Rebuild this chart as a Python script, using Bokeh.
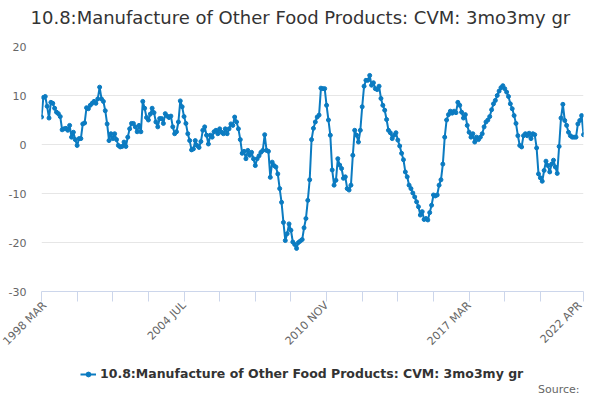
import math

from bokeh.plotting import figure
from bokeh.layouts import column
from bokeh.models import ColumnDataSource, FixedTicker, Range1d, Legend, LegendItem, Label, Title
from bokeh.embed import file_html
from bokeh.resources import INLINE

series_name = "10.8:Manufacture of Other Food Products: CVM: 3mo3my gr"

# monthly values, 1998 MAR .. 2022 APR
values = [
    5.6, 9.6, 9.8, 7.8, 5.4, 8.6, 8.4, 7.4, 6.6, 6.3,
    5.7, 3.0, 3.2, 3.3, 2.9, 3.9, 1.5, 2.5, 1.0, -0.2,
    1.2, 1.2, 4.2, 4.4, 7.5, 7.3, 8.0, 8.4, 8.8, 8.4,
    9.3, 11.7, 9.3, 8.8, 6.9, 4.2, 0.8, 2.2, 1.2, 2.2,
    1.0, -0.2, -0.5, -0.4, 0.5, -0.4, 1.5, 3.2, 4.3, 4.3,
    3.6, 2.6, 3.9, 2.6, 8.8, 7.4, 5.5, 5.0, 6.2, 7.4,
    6.5, 4.6, 3.6, 5.3, 5.3, 4.3, 6.3, 5.8, 5.5, 5.8,
    3.6, 2.2, 2.6, 4.6, 8.9, 7.7, 5.7, 4.3, 2.2, 0.8,
    -1.1, -0.9, 0.8, -0.2, -0.6, 0.6, 2.9, 3.6, 1.9, 0.1,
    1.9, 1.5, 2.6, 2.9, 2.2, 3.2, 2.5, 2.2, 3.2, 2.2,
    3.2, 4.2, 3.9, 5.6, 4.6, 3.2, 1.0, -1.8, -1.4, -2.9,
    -1.2, -2.2, -1.6, -2.9, -4.3, -2.9, -2.3, -1.6, -1.2, 2.0,
    -1.2, -1.4, -6.7, -3.6, -4.3, -4.6, -6.0, -9.0, -11.8, -15.9,
    -19.6, -18.2, -16.2, -17.5, -19.9, -20.4, -21.2, -20.0, -19.7, -19.4,
    -17.0, -15.1, -11.4, -7.2, 1.0, 3.3, 4.6, 5.6, 6.0, 11.5,
    11.4, 11.4, 8.0, 5.0, 1.9, -5.2, -8.3, -7.3, -2.9, -4.2,
    -4.9, -6.9, -6.6, -9.0, -9.3, -8.3, -2.2, 2.9, 1.9, 0.5,
    2.9, 7.7, 11.9, 13.1, 13.1, 14.1, 12.1, 12.6, 11.4, 11.2,
    11.9, 9.4, 8.0, 7.0, 5.1, 2.9, 2.4, 1.2, 1.9, 2.4,
    0.9, -0.3, -1.8, -3.1, -5.6, -6.6, -8.3, -9.0, -9.9, -10.7,
    -11.7, -12.7, -14.4, -13.7, -15.3, -15.1, -15.4, -13.9, -12.4, -10.3,
    -10.5, -10.3, -8.3, -7.2, -4.0, 1.5, 5.0, 6.1, 6.8, 6.4,
    6.8, 6.5, 8.6, 8.0, 6.6, 5.4, 6.1, 3.9, 2.5, 1.5,
    2.2, 0.5, 1.5, 1.0, 1.5, 2.2, 3.6, 4.6, 5.0, 5.7,
    7.1, 8.3, 9.0, 10.0, 10.9, 11.6, 12.0, 11.4, 10.7, 9.8,
    8.3, 7.3, 5.9, 4.3, 1.8, -0.2, -0.5, 1.8, 2.2, 1.8,
    2.3, 1.2, 2.2, 2.0, -0.7, -6.0, -6.8, -7.5, -5.3, -3.4,
    -4.3, -5.6, -4.0, -3.2, -4.6, -5.9, -0.4, 5.4, 8.2, 4.9,
    3.9, 2.5, 1.8, 1.5, 1.5, 1.5, 4.2, 4.9, 5.9, 2.0,
]

x_ticks = [0, 19, 38, 57, 76, 95, 114, 133, 152, 171, 190, 209, 228, 247, 266, 289]
x_tick_labels = {0: "1998 MAR", 76: "2004 JUL", 152: "2010 NOV", 228: "2017 MAR", 289: "2022 APR"}
y_ticks = [-30, -20, -10, 0, 10, 20]

color = "#0b7bc1"
font = "DejaVu Sans"

src = ColumnDataSource(data=dict(x=list(range(len(values))), y=values))

p = figure(width=584, height=355, title_location=None,
           x_range=Range1d(0, len(values) - 1), y_range=Range1d(-30, 20),
           output_backend="svg", toolbar_location=None,
           min_border_left=41, min_border_right=1,
           min_border_top=46, min_border_bottom=63)
p.outline_line_color = None

# empty spacer first (next to the frame), then the real title above it
p.add_layout(Title(text=" ", text_font_size="10px", standoff=4), "above")
p.add_layout(Title(text=series_name, align="left", offset=-11, standoff=4,
                   text_font=font, text_font_size="18px", text_font_style="normal",
                   text_color="#333333"), "above")

p.line("x", "y", source=src, color=color, line_width=2)
p.scatter("x", "y", source=src, size=4, color=color)

p.xgrid.grid_line_color = None
p.ygrid.grid_line_color = "#e6e6e6"

p.yaxis.ticker = FixedTicker(ticks=y_ticks)
p.yaxis.major_label_overrides = {t: str(t) for t in y_ticks}
p.yaxis.axis_line_color = None
p.yaxis.major_tick_line_color = None
p.yaxis.minor_tick_line_color = None
p.yaxis.major_tick_out = 0
p.yaxis.minor_tick_out = 0
p.yaxis.major_label_standoff = 15
p.yaxis.major_label_text_font = font
p.yaxis.major_label_text_font_size = "11px"
p.yaxis.major_label_text_color = "#666666"

p.xaxis.ticker = FixedTicker(ticks=x_ticks)
p.xaxis.major_label_overrides = {t: x_tick_labels.get(t, "") for t in x_ticks}
p.xaxis.major_label_orientation = math.pi / 4
p.xaxis.axis_line_color = "#ccd6eb"
p.xaxis.major_tick_line_color = "#ccd6eb"
p.xaxis.major_tick_in = 0
p.xaxis.major_tick_out = 10
p.xaxis.minor_tick_line_color = None
p.xaxis.major_label_standoff = 2
p.xaxis.major_label_text_font = font
p.xaxis.major_label_text_font_size = "11px"
p.xaxis.major_label_text_color = "#666666"

# strip under the chart for the legend and the source note
foot = figure(width=584, height=43, x_range=Range1d(-3, -2), y_range=Range1d(0, 1),
              output_backend="svg", toolbar_location=None,
              x_axis_location=None, y_axis_location=None, min_border=0)
foot.outline_line_color = None
foot.grid.grid_line_color = None
leg_line = foot.line("x", "y", source=src, color=color, line_width=2)
leg_dot = foot.scatter("x", "y", source=src, size=4, color=color)

legend = Legend(items=[LegendItem(label=series_name, renderers=[leg_line, leg_dot])],
                location=(39, 17), orientation="horizontal",
                border_line_color=None, background_fill_alpha=0,
                label_text_font=font, label_text_font_size="12.5px",
                label_text_font_style="bold", label_text_color="#333333",
                glyph_width=16, glyph_height=12, label_standoff=4,
                padding=2, margin=0)
foot.add_layout(legend)

foot.add_layout(Label(x=538, y=9, x_units="screen", y_units="screen",
                      text="Source:", text_align="right", text_baseline="middle",
                      text_font=font, text_font_size="11px", text_color="#666666"))

layout = column(p, foot, spacing=0)

open("out.html", "w").write(file_html(layout, INLINE))
